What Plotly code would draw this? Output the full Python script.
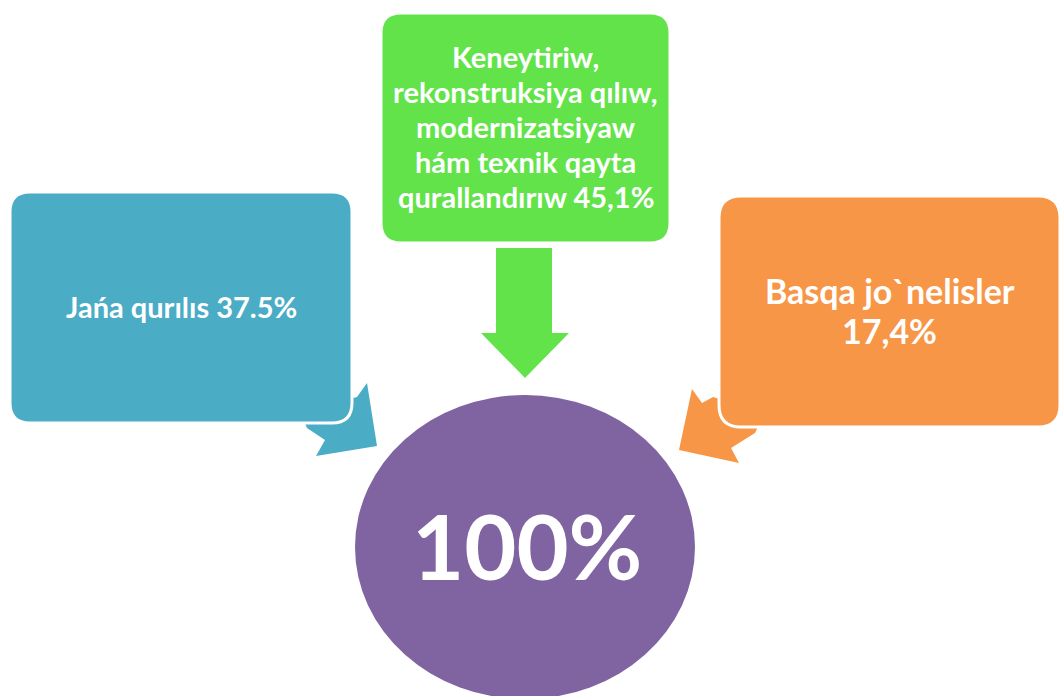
import plotly.graph_objects as go

# ---- data ----
categories = ["Jańa qurılıs",
              "Keneytiriw, rekonstruksiya qılıw, modernizatsiyaw hám texnik qayta qurallandırıw",
              "Basqa jo`nelisler"]
share_text = ["37.5%", "45,1%", "17,4%"]
total_text = "100%"
label_lines = [
    ["Jańa qurılıs " + share_text[0]],
    ["Keneytiriw,", "rekonstruksiya qılıw,", "modernizatsiyaw", "hám texnik qayta",
     "qurallandırıw " + share_text[1]],
    ["Basqa jo`nelisler", share_text[2]],
]
colors = ["#4BACC6", "#62E34A", "#F79646"]
total_color = "#8064A2"

# ---- layout (pixel canvas) ----
W, H = 1061, 696
boxes = [(10, 192, 352, 423), (381, 13, 670, 243), (719, 196, 1060, 427)]
radii = [20, 20, 22]
font_sizes = [29, 29, 34]
line_gap = [0, 35, 40]
first_baseline = [317, 67, 303]
arrows = [
    [(345, 400), (357, 397), (367, 383), (377, 446), (316, 456), (325, 440), (307, 428), (300, 412)],
    [(496, 248), (552, 248), (552, 333), (569, 333), (525, 378), (481, 333), (496, 333)],
    [(730, 402), (713, 397), (702, 403), (692, 389), (679, 450), (739, 463), (731, 448), (755, 433), (762, 418)],
]
ellipse = (355, 395, 695, 699)


def rounded_rect(x0, y0, x1, y1, r):
    return (f"M {x0+r},{y0} L {x1-r},{y0} Q {x1},{y0} {x1},{y0+r} "
            f"L {x1},{y1-r} Q {x1},{y1} {x1-r},{y1} L {x0+r},{y1} "
            f"Q {x0},{y1} {x0},{y1-r} L {x0},{y0+r} Q {x0},{y0} {x0+r},{y0} Z")


def poly(pts):
    return "M " + " L ".join(f"{x},{y}" for x, y in pts) + " Z"


shapes = []
shapes.append(dict(type="circle", xref="x", yref="y", x0=ellipse[0], y0=ellipse[1],
                   x1=ellipse[2], y1=ellipse[3], fillcolor=total_color, line=dict(width=0),
                   layer="above"))
for pts, c in zip(arrows, colors):
    shapes.append(dict(type="path", xref="x", yref="y", path=poly(pts), fillcolor=c,
                       line=dict(width=0), layer="above"))
for (x0, y0, x1, y1), r, c in zip(boxes, radii, colors):
    shapes.append(dict(type="path", xref="x", yref="y", path=rounded_rect(x0, y0, x1, y1, r),
                       fillcolor=c, line=dict(color="white", width=3), layer="above"))

annotations = []
for (x0, y0, x1, y1), lines, fs, gap, b0 in zip(boxes, label_lines, font_sizes, line_gap, first_baseline):
    for i, ln in enumerate(lines):
        annotations.append(dict(x=(x0 + x1) / 2, y=b0 + i * gap - 0.36 * fs, xref="x", yref="y",
                                text="<b>" + ln + "</b>", showarrow=False,
                                font=dict(family="Lato", size=fs, color="white"),
                                xanchor="center", yanchor="middle"))
annotations.append(dict(x=(ellipse[0] + ellipse[2]) / 2 + 2, y=545, xref="x", yref="y",
                        text="<b>" + total_text + "</b>", showarrow=False,
                        font=dict(family="Lato", size=90, color="white"),
                        xanchor="center", yanchor="middle"))

fig = go.Figure()
fig.add_trace(go.Scatter(x=[0, W], y=[0, H], mode="markers", marker=dict(opacity=0),
                         hoverinfo="skip", showlegend=False))
fig.update_layout(width=W, height=H, margin=dict(l=0, r=0, t=0, b=0),
                  paper_bgcolor="white", plot_bgcolor="white",
                  xaxis=dict(range=[0, W], visible=False, fixedrange=True),
                  yaxis=dict(range=[H, 0], visible=False, fixedrange=True),
                  shapes=shapes, annotations=annotations, showlegend=False)
fig.write_html("out.html", config={"displayModeBar": False, "responsive": False},
               post_script="document.body.style.margin='0';document.body.style.overflow='hidden';")
